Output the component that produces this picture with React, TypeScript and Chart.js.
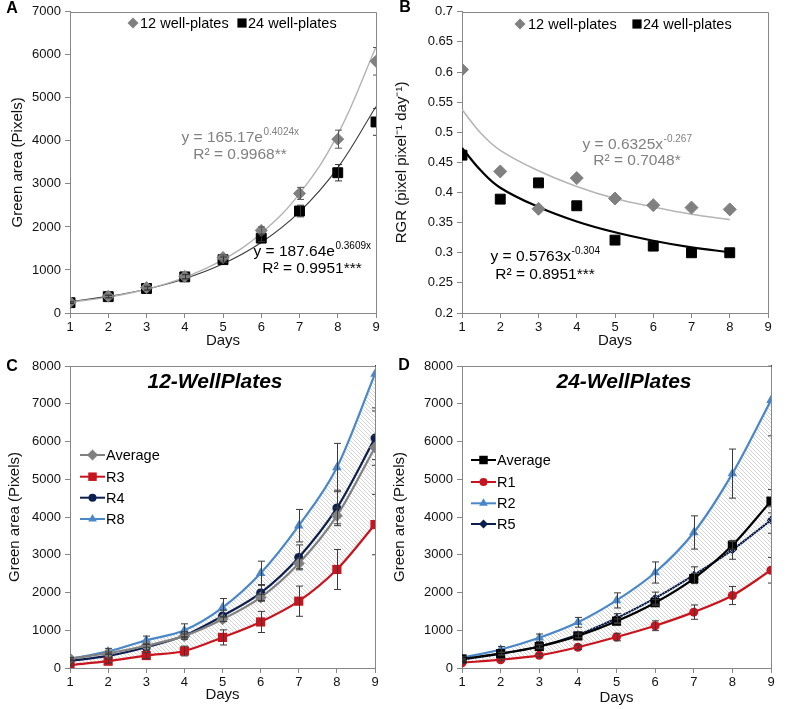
import React, { useEffect, useRef } from "react";
import { Chart, registerables } from "chart.js";

Chart.register(...registerables);

const FONT = "'Liberation Sans', Arial, sans-serif";
Chart.defaults.font.family = FONT;

// ---------------- data ----------------
const days = [1, 2, 3, 4, 5, 6, 7, 8, 9];
const daysB = [1, 2, 3, 4, 5, 6, 7, 8];
const daysBFit = [1, 1.5, 2, 3, 4, 5, 6, 7, 8];
const xTicks = [1, 2, 3, 4, 5, 6, 7, 8, 9];
const yTicksA = [0, 1000, 2000, 3000, 4000, 5000, 6000, 7000];
const yTicksB = [0.2, 0.25, 0.3, 0.35, 0.4, 0.45, 0.5, 0.55, 0.6, 0.65, 0.7];
const yTicksCD = [0, 1000, 2000, 3000, 4000, 5000, 6000, 7000, 8000];

// Panel A: green area
const area12 = [250, 390, 590, 850, 1290, 1920, 2780, 4040, 5850];
const area12Err = [20, 30, 40, 50, 60, 80, 140, 210, 320];
const area24 = [240, 380, 570, 840, 1240, 1740, 2370, 3260, 4440];
const area24Err = [20, 30, 40, 50, 60, 80, 135, 190, 310];
const area12Fit = [247, 370, 553, 827, 1238, 1853, 2774, 4150, 6180];
const area24Fit = [269, 386, 554, 796, 1142, 1638, 2351, 3373, 4800];

// Panel B: RGR
const rgr12 = [0.604, 0.435, 0.373, 0.424, 0.39, 0.379, 0.375, 0.372];
const rgr24 = [0.462, 0.389, 0.416, 0.378, 0.321, 0.311, 0.3, 0.3];
const rgr12Fit = [0.538, 0.498, 0.47, 0.436, 0.41, 0.39, 0.376, 0.364, 0.355];
const rgr24Fit = [0.474, 0.436, 0.408, 0.376, 0.352, 0.334, 0.32, 0.309, 0.301];

// Panel C: 12-well replicates
const c12Avg = [250, 390, 590, 850, 1290, 1870, 2770, 4030, 5840];
const c12AvgErr = [20, 30, 40, 50, 60, 80, 140, 210, 320];
const c12R3 = [80, 180, 330, 450, 810, 1220, 1770, 2610, 3800];
const c12R3Err = [30, 50, 80, 130, 200, 280, 400, 530, 800];
const c12R4 = [190, 320, 550, 860, 1380, 1990, 2930, 4240, 6090];
const c12R4Err = [30, 50, 80, 100, 150, 220, 330, 470, 720];
const c12R8 = [240, 440, 735, 1000, 1600, 2510, 3770, 5310, 7790];
const c12R8Err = [40, 80, 110, 170, 240, 320, 430, 640, 900];

// Panel D: 24-well replicates
const d24Avg = [240, 380, 570, 850, 1240, 1730, 2370, 3250, 4420];
const d24AvgErr = [20, 30, 40, 50, 60, 80, 135, 100, 310];
const d24R1 = [140, 220, 335, 550, 820, 1120, 1480, 1920, 2590];
const d24R1Err = [20, 30, 40, 60, 100, 130, 190, 240, 340];
const d24R2 = [270, 490, 800, 1210, 1790, 2530, 3590, 5150, 7090];
const d24R2Err = [40, 80, 100, 130, 200, 280, 440, 650, 940];
const d24R5 = [220, 380, 570, 880, 1320, 1850, 2460, 3130, 3920];
const d24R5Err = [30, 40, 60, 80, 120, 160, 220, 250, 350];

const legendAB = ["12 well-plates", "24 well-plates"];
const legendC = ["Average", "R3", "R4", "R8"];
const legendD = ["Average", "R1", "R2", "R5"];
const titleC = "12-WellPlates";
const titleD = "24-WellPlates";
const eqA12 = { main: "y = 165.17e", sup: "0.4024x", r2: "R² = 0.9968**" };
const eqA24 = { main: "y = 187.64e", sup: "0.3609x", r2: "R² = 0.9951***" };
const eqB12 = { main: "y = 0.6325x", sup: "-0.267", r2: "R² = 0.7048*" };
const eqB24 = { main: "y = 0.5763x", sup: "-0.304", r2: "R² = 0.8951***" };

// ---------------- styles ----------------
const AXIS = "#878787";
const GRAY = "#808080";
const RED = "#c8141e";
const BLUE = "#4a87c9";
const NAVY = "#0c1f4e";

const pts = (xs: number[], ys: number[]) => xs.map((x, i) => ({ x, y: ys[i] }));

function drawMarker(ctx: CanvasRenderingContext2D, style: string, x: number, y: number, r: number, color: string) {
  ctx.save();
  ctx.fillStyle = color;
  ctx.beginPath();
  if (style === "circle") ctx.arc(x, y, r, 0, Math.PI * 2);
  else if (style === "rect") {
    const s = r * Math.SQRT1_2;
    ctx.rect(x - s, y - s, 2 * s, 2 * s);
  } else if (style === "rectRot") {
    ctx.moveTo(x - r, y);
    ctx.lineTo(x, y - r);
    ctx.lineTo(x + r, y);
    ctx.lineTo(x, y + r);
    ctx.closePath();
  } else if (style === "triangle") {
    const h = r * 1.5;
    ctx.moveTo(x, y - r);
    ctx.lineTo(x + h / Math.sqrt(3), y + r / 2);
    ctx.lineTo(x - h / Math.sqrt(3), y + r / 2);
    ctx.closePath();
  }
  ctx.fill();
  ctx.restore();
}

const errorBarPlugin = {
  id: "errbars",
  afterDatasetsDraw(chart: any) {
    const { ctx, chartArea: ca, scales } = chart;
    const x = scales.x, y = scales.y;
    ctx.save();
    ctx.beginPath();
    ctx.rect(ca.left, ca.top - 1, ca.right - ca.left + 1, ca.bottom - ca.top + 2);
    ctx.clip();
    chart.data.datasets.forEach((ds: any) => {
      if (!ds.errors) return;
      ctx.strokeStyle = ds.errorColor || "#444";
      ctx.lineWidth = 1;
      ds.data.forEach((p: any, i: number) => {
        const e = ds.errors[i];
        if (!e) return;
        const px = Math.round(x.getPixelForValue(p.x)) + 0.5;
        const y1 = y.getPixelForValue(p.y + e);
        const y2 = y.getPixelForValue(p.y - e);
        ctx.beginPath();
        ctx.moveTo(px, y1);
        ctx.lineTo(px, y2);
        ctx.moveTo(px - 3.5, y1);
        ctx.lineTo(px + 3.5, y1);
        ctx.moveTo(px - 3.5, y2);
        ctx.lineTo(px + 3.5, y2);
        ctx.stroke();
      });
    });
    ctx.restore();
  },
};

type Decor = {
  letter: { t: string; x: number; y: number };
  title?: { t: string; x: number; y: number };
  rowLegend?: { y: number; items: { style: string; color: string; r: number; mx: number; tx: number; text: string }[] };
  colLegend?: { x1: number; x2: number; tx: number; items: { style: string; color: string; r: number; y: number; text: string }[] };
  notes?: { cx: number; cy: number; cy2: number; color: string; eq: { main: string; sup: string; r2: string } }[];
};

function makeDecor(d: Decor) {
  return {
    id: "decor",
    afterDraw(chart: any) {
      const ctx: CanvasRenderingContext2D = chart.ctx;
      const ca = chart.chartArea;
      ctx.save();
      // frame
      ctx.strokeStyle = AXIS;
      ctx.lineWidth = 1;
      const l = Math.round(ca.left) + 0.5, t = Math.round(ca.top) + 0.5;
      const r = Math.round(ca.right) + 0.5, b = Math.round(ca.bottom) + 0.5;
      ctx.beginPath();
      ctx.moveTo(l, t);
      ctx.lineTo(r, t);
      ctx.lineTo(r, b);
      ctx.stroke();
      // letter
      ctx.fillStyle = "#000";
      ctx.font = `bold 16px ${FONT}`;
      ctx.textAlign = "center";
      ctx.textBaseline = "middle";
      ctx.fillText(d.letter.t, d.letter.x, d.letter.y);
      if (d.title) {
        ctx.font = `italic bold 21px ${FONT}`;
        ctx.fillText(d.title.t, d.title.x, d.title.y);
      }
      if (d.rowLegend) {
        ctx.font = `14.5px ${FONT}`;
        ctx.textAlign = "left";
        d.rowLegend.items.forEach((it) => {
          drawMarker(ctx, it.style, it.mx, d.rowLegend!.y, it.r, it.color);
          ctx.fillStyle = "#000";
          ctx.fillText(it.text, it.tx, d.rowLegend!.y + 1);
        });
      }
      if (d.colLegend) {
        const c = d.colLegend;
        ctx.font = `14.5px ${FONT}`;
        ctx.textAlign = "left";
        c.items.forEach((it) => {
          ctx.strokeStyle = it.color;
          ctx.lineWidth = 2;
          ctx.beginPath();
          ctx.moveTo(c.x1, it.y);
          ctx.lineTo(c.x2, it.y);
          ctx.stroke();
          drawMarker(ctx, it.style, (c.x1 + c.x2) / 2, it.y, it.r, it.color);
          ctx.fillStyle = "#000";
          ctx.fillText(it.text, c.tx, it.y + 1);
        });
      }
      if (d.notes) {
        d.notes.forEach((n) => {
          ctx.fillStyle = n.color;
          ctx.textAlign = "left";
          ctx.font = `15.5px ${FONT}`;
          const w1 = ctx.measureText(n.eq.main).width;
          ctx.font = `10px ${FONT}`;
          const w2 = ctx.measureText(n.eq.sup).width;
          const x0 = n.cx - (w1 + w2) / 2;
          ctx.font = `15.5px ${FONT}`;
          ctx.fillText(n.eq.main, x0, n.cy);
          ctx.font = `10px ${FONT}`;
          ctx.fillText(n.eq.sup, x0 + w1 + 0.5, n.cy - 6);
          ctx.font = `15.5px ${FONT}`;
          ctx.textAlign = "center";
          ctx.fillText(n.eq.r2, n.cx, n.cy2);
        });
      }
      ctx.restore();
    },
  };
}

function makeHatch(): CanvasPattern | string {
  const s = 4;
  const c = document.createElement("canvas");
  c.width = s;
  c.height = s;
  const g = c.getContext("2d");
  if (!g) return "rgba(150,150,150,0.2)";
  g.clearRect(0, 0, s, s);
  g.strokeStyle = "#c2c2c2";
  g.lineWidth = 0.7;
  for (const k of [-s, 0, s]) {
    g.beginPath();
    g.moveTo(k, 0);
    g.lineTo(k + s, s);
    g.stroke();
  }
  return g.createPattern(c, "repeat") || "rgba(150,150,150,0.2)";
}

type Geo = {
  yw: number; xh: number; padTop: number; padRight: number;
  yMin: number; yMax: number; yTicks: number[]; yFmt: (v: number) => string;
  yTitle: string; yTitlePad: number; xTitlePad: number; xTickPad: number;
};

function makeOptions(g: Geo) {
  return {
    responsive: false,
    animation: false,
    devicePixelRatio: 1,
    events: [],
    layout: { padding: { left: 0, right: g.padRight, top: g.padTop, bottom: 0 } },
    plugins: { legend: { display: false }, tooltip: { enabled: false } },
    scales: {
      x: {
        type: "linear",
        min: 1,
        max: 9,
        afterBuildTicks: (s: any) => { s.ticks = xTicks.map((v) => ({ value: v })); },
        afterFit: (s: any) => { s.height = g.xh; },
        ticks: { autoSkip: false, maxRotation: 0, padding: g.xTickPad, color: "#111", font: { family: FONT, size: 13 }, callback: (v: any) => String(v) },
        grid: { display: true, drawOnChartArea: false, drawTicks: true, tickLength: 5, color: AXIS, tickColor: AXIS },
        border: { display: true, color: AXIS, width: 1 },
        title: { display: true, text: "Days", color: "#111", font: { family: FONT, size: 15 }, padding: { top: 0, bottom: g.xTitlePad } },
      },
      y: {
        type: "linear",
        min: g.yMin,
        max: g.yMax,
        afterBuildTicks: (s: any) => { s.ticks = g.yTicks.map((v) => ({ value: v })); },
        afterFit: (s: any) => { s.width = g.yw; },
        ticks: { padding: 4, color: "#111", font: { family: FONT, size: 13 }, callback: (v: any) => g.yFmt(Number(v)) },
        grid: { display: true, drawOnChartArea: false, drawTicks: true, tickLength: 5, color: AXIS, tickColor: AXIS },
        border: { display: true, color: AXIS, width: 1 },
        title: { display: true, text: g.yTitle, color: "#111", font: { family: FONT, size: 15 }, padding: { top: g.yTitlePad, bottom: 0 } },
      },
    },
  };
}

const fmtInt = (v: number) => String(Math.round(v));
const fmtDec = (v: number) => String(Number(v.toFixed(2)));

function fitDs(xs: number[], ys: number[], color: string, width: number) {
  return { data: pts(xs, ys), borderColor: color, borderWidth: width, pointRadius: 0, tension: 0.4, fill: false };
}

function buildA(): any {
  return {
    type: "line",
    data: {
      datasets: [
        { data: pts(days, area12), showLine: false, pointStyle: "rectRot", pointRadius: 6, pointBackgroundColor: GRAY, pointBorderColor: GRAY, errors: area12Err, errorColor: "#555" },
        { data: pts(days, area24), showLine: false, pointStyle: "rect", pointRadius: 7, pointBackgroundColor: "#000", pointBorderColor: "#000", errors: area24Err, errorColor: "#333" },
        fitDs(days, area12Fit, "#b3b3b3", 1.4),
        fitDs(days, area24Fit, "#3c3c3c", 1.1),
      ],
    },
    options: makeOptions({ yw: 70, xh: 37, padTop: 9, padRight: 14, yMin: 0, yMax: 7000, yTicks: yTicksA, yFmt: fmtInt, yTitle: "Green area (Pixels)", yTitlePad: 9, xTitlePad: 0, xTickPad: 2 }),
    plugins: [
      errorBarPlugin,
      makeDecor({
        letter: { t: "A", x: 12, y: 9 },
        rowLegend: { y: 23, items: [
          { style: "rectRot", color: GRAY, r: 5.5, mx: 133, tx: 140, text: legendAB[0] },
          { style: "rect", color: "#000", r: 6.5, mx: 242, tx: 248, text: legendAB[1] },
        ] },
        notes: [
          { cx: 240, cy: 138, cy2: 155, color: GRAY, eq: eqA12 },
          { cx: 312, cy: 252, cy2: 269, color: "#000", eq: eqA24 },
        ],
      }),
    ],
  };
}

function buildB(): any {
  return {
    type: "line",
    data: {
      datasets: [
        { data: pts(daysB, rgr12), showLine: false, pointStyle: "rectRot", pointRadius: 6.5, pointBackgroundColor: GRAY, pointBorderColor: GRAY },
        { data: pts(daysB, rgr24), showLine: false, pointStyle: "rect", pointRadius: 7, pointBackgroundColor: "#000", pointBorderColor: "#000" },
        fitDs(daysBFit, rgr12Fit, "#b5b5b5", 1.6),
        fitDs(daysBFit, rgr24Fit, "#000", 2.2),
      ],
    },
    options: makeOptions({ yw: 72, xh: 37, padTop: 8, padRight: 19, yMin: 0.2, yMax: 0.7, yTicks: yTicksB, yFmt: fmtDec, yTitle: "RGR (pixel pixel⁻¹ day⁻¹)", yTitlePad: 3, xTitlePad: 0, xTickPad: 2 }),
    plugins: [
      makeDecor({
        letter: { t: "B", x: 15, y: 8 },
        rowLegend: { y: 24, items: [
          { style: "rectRot", color: GRAY, r: 5.5, mx: 130, tx: 138, text: legendAB[0] },
          { style: "rect", color: "#000", r: 6.5, mx: 247, tx: 253, text: legendAB[1] },
        ] },
        notes: [
          { cx: 247, cy: 145, cy2: 161, color: GRAY, eq: eqB12 },
          { cx: 155, cy: 257, cy2: 275, color: "#000", eq: eqB24 },
        ],
      }),
    ],
  };
}

function lineDs(data: number[], err: number[], color: string, style: string, r: number, extra: any = {}) {
  return {
    data: pts(days, data),
    borderColor: color,
    borderWidth: 2.2,
    pointStyle: style,
    pointRadius: r,
    pointBackgroundColor: color,
    pointBorderColor: color,
    pointBorderWidth: 0,
    cubicInterpolationMode: "monotone",
    fill: false,
    errors: err,
    errorColor: "#3a3a3a",
    ...extra,
  };
}

function buildC(): any {
  return {
    type: "line",
    data: {
      datasets: [
        lineDs(c12Avg, c12AvgErr, GRAY, "rectRot", 6),
        lineDs(c12R3, c12R3Err, RED, "rect", 6.5),
        lineDs(c12R4, c12R4Err, NAVY, "circle", 4.5),
        lineDs(c12R8, c12R8Err, BLUE, "triangle", 5.5, { fill: { target: 1 }, backgroundColor: makeHatch() }),
      ],
    },
    options: makeOptions({ yw: 70, xh: 41, padTop: 16, padRight: 15, yMin: 0, yMax: 8000, yTicks: yTicksCD, yFmt: fmtInt, yTitle: "Green area (Pixels)", yTitlePad: 6, xTitlePad: 5, xTickPad: 2 }),
    plugins: [
      errorBarPlugin,
      makeDecor({
        letter: { t: "C", x: 12, y: 17 },
        title: { t: titleC, x: 215, y: 32 },
        colLegend: { x1: 80, x2: 105, tx: 106, items: [
          { style: "rectRot", color: GRAY, r: 5.5, y: 105, text: legendC[0] },
          { style: "rect", color: RED, r: 6, y: 126.7, text: legendC[1] },
          { style: "circle", color: NAVY, r: 4, y: 147.7, text: legendC[2] },
          { style: "triangle", color: BLUE, r: 5, y: 169, text: legendC[3] },
        ] },
      }),
    ],
  };
}

function buildD(): any {
  return {
    type: "line",
    data: {
      datasets: [
        lineDs(d24Avg, d24AvgErr, "#000", "rect", 6.5),
        lineDs(d24R1, d24R1Err, RED, "circle", 4.5),
        lineDs(d24R2, d24R2Err, BLUE, "triangle", 5.5, { fill: { target: 1 }, backgroundColor: makeHatch() }),
        lineDs(d24R5, d24R5Err, NAVY, "rectRot", 4.5),
      ],
    },
    options: makeOptions({ yw: 72, xh: 41, padTop: 16, padRight: 16, yMin: 0, yMax: 8000, yTicks: yTicksCD, yFmt: fmtInt, yTitle: "Green area (Pixels)", yTitlePad: 1, xTitlePad: 2, xTickPad: 2 }),
    plugins: [
      errorBarPlugin,
      makeDecor({
        letter: { t: "D", x: 14, y: 16 },
        title: { t: titleD, x: 234, y: 32 },
        colLegend: { x1: 81, x2: 106, tx: 107, items: [
          { style: "rect", color: "#000", r: 6, y: 110, text: legendD[0] },
          { style: "circle", color: RED, r: 4, y: 132, text: legendD[1] },
          { style: "triangle", color: BLUE, r: 5, y: 153.3, text: legendD[2] },
          { style: "rectRot", color: NAVY, r: 4.5, y: 174, text: legendD[3] },
        ] },
      }),
    ],
  };
}

function Panel(props: { left: number; top: number; width: number; height: number; build: () => any }) {
  const ref = useRef<HTMLCanvasElement | null>(null);
  useEffect(() => {
    if (!ref.current) return;
    const chart = new Chart(ref.current, props.build());
    return () => chart.destroy();
  }, []);
  return (
    <canvas
      ref={ref}
      width={props.width}
      height={props.height}
      style={{ position: "absolute", left: props.left, top: props.top, width: props.width, height: props.height }}
    />
  );
}

export default function App() {
  return (
    <div style={{ position: "absolute", left: 0, top: 0, width: 787, height: 709, background: "#fff", overflow: "hidden" }}>
      <Panel left={0} top={0} width={390} height={350} build={buildA} />
      <Panel left={390} top={0} width={397} height={350} build={buildB} />
      <Panel left={0} top={350} width={390} height={359} build={buildC} />
      <Panel left={390} top={350} width={397} height={359} build={buildD} />
    </div>
  );
}
